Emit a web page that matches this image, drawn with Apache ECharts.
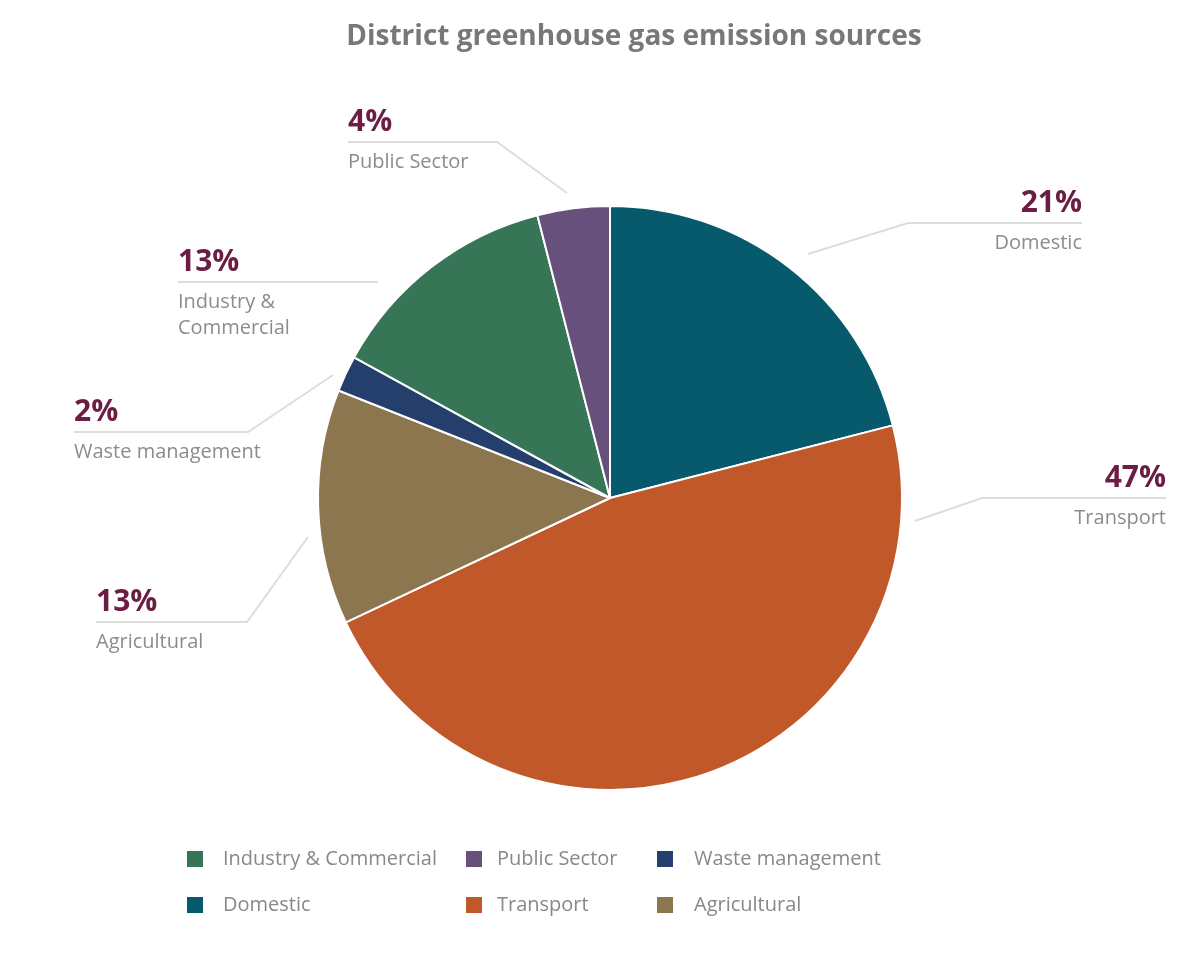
<!DOCTYPE html>
<html>
<head>
<meta charset="utf-8">
<script src="https://cdn.jsdelivr.net/npm/echarts@6/dist/echarts.min.js"></script>
<style>
  html, body { margin: 0; background: #fff; }
  #main { width: 1200px; height: 958px; }
</style>
</head>
<body>
<div id="main"></div>
<script>
var categories = ['Domestic', 'Transport', 'Agricultural', 'Waste management', 'Industry & Commercial', 'Public Sector'];
var shares = [21, 47, 13, 2, 13, 4];
var sliceColors = ['#065a6c', '#c0582a', '#8b7650', '#243f6b', '#367657', '#67507b'];
var labelNames = ['Domestic', 'Transport', 'Agricultural', 'Waste management', 'Industry &\nCommercial', 'Public Sector'];
var legendColumns = [
  ['Industry & Commercial', 'Domestic'],
  ['Public Sector', 'Transport'],
  ['Waste management', 'Agricultural']
];

// leader line for each label: near the pie -> bend -> under the text
var guides = [
  [[808, 254], [908, 223], [1082, 223]],
  [[915, 521], [982, 498], [1166, 498]],
  [[308, 537], [247, 622], [96, 622]],
  [[333, 375], [248, 432], [74, 432]],
  [[378, 282], [377, 282], [178, 282]],
  [[567, 193], [497, 142], [348, 142]]
];

var FONT = '"Open Sans", "Noto Sans", sans-serif';

var chart = echarts.init(document.getElementById('main'));

var pieData = categories.map(function (name, i) {
  return { name: name, value: shares[i], itemStyle: { color: sliceColors[i] } };
});

var option = {
  backgroundColor: '#fff',
  animation: false,
  title: {
    text: 'District greenhouse gas emission sources',
    left: 629,
    top: 18,
    textAlign: 'center',
    textStyle: { fontFamily: FONT, fontSize: 28, fontWeight: 'bold', color: '#787878' }
  },
  legend: legendColumns.map(function (col, k) {
    return {
      data: col,
      orient: 'vertical',
      left: [187, 466, 657][k],
      top: 849,
      padding: 0,
      icon: 'rect',
      itemWidth: 16,
      itemHeight: 16,
      itemGap: 26,
      selectedMode: false,
      itemStyle: { borderWidth: 0, borderColor: 'transparent' },
      textStyle: {
        fontFamily: FONT,
        fontSize: 20,
        lineHeight: 20,
        color: '#888',
        padding: [0, 0, 0, [15, 10, 16][k]]
      }
    };
  }),
  series: [{
    type: 'pie',
    center: [610, 498],
    radius: 292,
    startAngle: 90,
    clockwise: true,
    data: pieData,
    itemStyle: { borderColor: '#fff', borderWidth: 2 },
    emphasis: { disabled: true },
    label: {
      show: true,
      position: 'outside',
      formatter: function (p) {
        var lines = labelNames[p.dataIndex].split('\n').map(function (s) {
          return '{n|' + s + '}';
        }).join('\n');
        return '{p|' + shares[p.dataIndex] + '%}\n{g| }\n' + lines;
      },
      rich: {
        p: { fontFamily: FONT, fontSize: 30, fontWeight: 'bold', color: '#6b1d43', lineHeight: 40 },
        g: { fontSize: 1, lineHeight: 7 },
        n: { fontFamily: FONT, fontSize: 20, color: '#8c8c8c', lineHeight: 26 }
      }
    },
    labelLine: {
      show: true,
      smooth: false,
      lineStyle: { color: '#dddddd', width: 2 }
    },
    labelLayout: function (params) {
      var g = guides[params.dataIndex];
      var end = g[2];
      var onRight = end[0] > g[1][0];
      return {
        x: end[0],
        y: end[1] - 40,
        align: onRight ? 'right' : 'left',
        verticalAlign: 'top',
        labelLinePoints: g
      };
    }
  }]
};

chart.setOption(option);
</script>
</body>
</html>
